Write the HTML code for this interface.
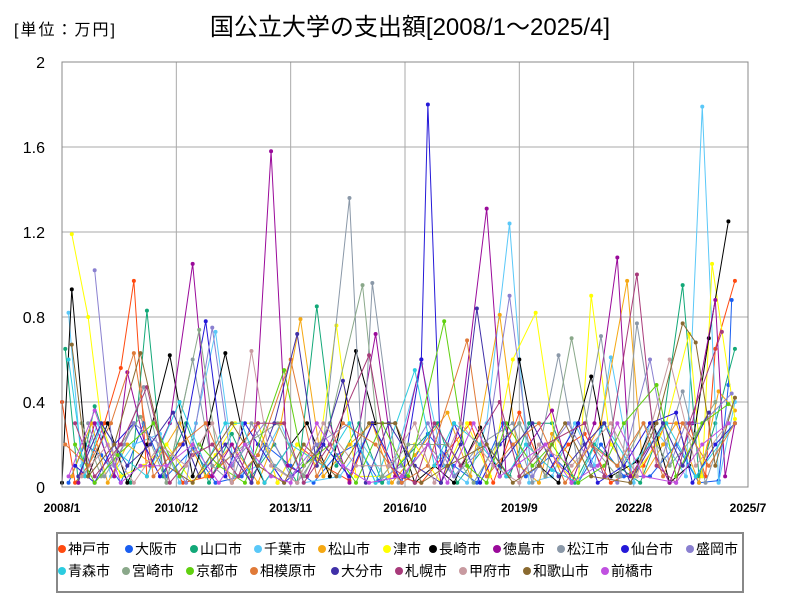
<!DOCTYPE html>
<html><head><meta charset="utf-8">
<style>
body{margin:0;background:#fff;width:800px;height:600px;overflow:hidden;font-family:"Liberation Sans","Noto Sans CJK JP",sans-serif;}
svg text{font-family:"Liberation Sans","Noto Sans CJK JP",sans-serif;}
</style></head><body>
<svg id="chart" width="800" height="600" viewBox="0 0 800 600" xmlns="http://www.w3.org/2000/svg">
<rect width="800" height="600" fill="#fff"/>
<text x="14" y="35" font-size="16" letter-spacing="2" fill="#000">[単位：万円]</text>
<text x="410" y="35" font-size="24" text-anchor="middle" fill="#000">国公立大学の支出額[2008/1～2025/4]</text>
<g id="grid"></g>
<g id="series"></g>
<g id="axes"></g>
<rect x="57" y="533" width="686" height="59" fill="#fff" stroke="#888" stroke-width="2"/>
<g id="legend"></g>
</svg>
<script>
const NS="http://www.w3.org/2000/svg";
const yTicks=[0,0.4,0.8,1.2,1.6,2];
const yTickLabels=["0","0.4","0.8","1.2","1.6","2"];
const xTickMonths=[0,35,70,105,140,175,210];
const xTickLabels=["2008/1","2010/12","2013/11","2016/10","2019/9","2022/8","2025/7"];
const names=["神戸市","大阪市","山口市","千葉市","松山市","津市","長崎市","徳島市","松江市","仙台市","盛岡市","青森市","宮崎市","京都市","相模原市","大分市","札幌市","甲府市","和歌山市","前橋市"];
const colors=["#ff4a10","#1a5ef0","#12a878","#5ac8f8","#f5a813","#ffff00","#000000","#9a0a9a","#8a98a8","#2418d8","#8a80d0","#2ccce0","#8aa88a","#60d010","#e07a38","#4030a8","#a83a7a","#c89aa0","#8a6a30","#c050e0"];
const s0=[[0,0.4],[4,0.02],[8,0.1],[13,0.3],[18,0.56],[22,0.97],[26,0.05],[30,0.2],[37,0.02],[45,0.05],[52,0.15],[60,0.3],[66,0.02],[72,0.2],[80,0.1],[88,0.03],[95,0.3],[102,0.05],[110,0.02],[117,0.15],[125,0.3],[132,0.02],[140,0.35],[148,0.05],[155,0.2],[160,0.25],[168,0.02],[178,0.1],[185,0.3],[192,0.3],[197,0.05],[200,0.65],[206,0.97]];
const s1=[[2,0.02],[7,0.2],[12,0.15],[18,0.02],[25,0.3],[32,0.05],[40,0.18],[47,0.02],[55,0.05],[62,0.2],[70,0.1],[77,0.02],[84,0.15],[90,0.2],[97,0.03],[105,0.05],[112,0.25],[120,0.1],[127,0.02],[135,0.3],[142,0.05],[150,0.15],[158,0.02],[165,0.2],[172,0.05],[180,0.05],[188,0.2],[195,0.02],[201,0.03],[204,0.48],[205,0.88]];
const s2=[[1,0.65],[5,0.02],[10,0.38],[16,0.1],[21,0.02],[26,0.83],[31,0.05],[38,0.3],[45,0.02],[52,0.25],[58,0.05],[65,0.2],[72,0.02],[78,0.85],[84,0.1],[91,0.3],[98,0.02],[106,0.15],[115,0.3],[121,0.02],[130,0.2],[137,0.05],[143,0.3],[150,0.3],[157,0.02],[163,0.2],[170,0.1],[177,0.02],[184,0.3],[190,0.95],[195,0.05],[200,0.3],[206,0.65]];
const s3=[[2,0.82],[6,0.1],[11,0.3],[15,0.05],[22,0.2],[30,0.25],[36,0.02],[41,0.3],[47,0.73],[53,0.05],[60,0.1],[67,0.3],[74,0.02],[85,0.05],[92,0.2],[100,0.02],[110,0.58],[117,0.1],[124,0.02],[130,0.3],[137,1.24],[143,0.02],[150,0.05],[157,0.3],[163,0.1],[168,0.61],[175,0.02],[180,0.3],[185,0.2],[191,0.05],[196,1.79],[201,0.02],[206,0.4]];
const s4=[[3,0.05],[9,0.3],[14,0.02],[20,0.2],[28,0.1],[36,0.3],[44,0.05],[52,0.2],[60,0.02],[67,0.3],[73,0.79],[80,0.05],[88,0.2],[95,0.3],[101,0.02],[108,0.15],[118,0.35],[125,0.05],[134,0.81],[140,0.1],[146,0.02],[150,0.25],[158,0.1],[165,0.3],[173,0.97],[178,0.05],[184,0.2],[188,0.3],[195,0.02],[201,0.45],[206,0.36]];
const s5=[[3,1.19],[8,0.8],[12,0.3],[18,0.05],[25,0.1],[32,0.2],[40,0.02],[47,0.15],[53,0.3],[60,0.3],[66,0.02],[72,0.2],[78,0.1],[84,0.76],[90,0.05],[100,0.05],[108,0.2],[116,0.02],[124,0.3],[131,0.05],[138,0.6],[145,0.82],[152,0.1],[158,0.02],[162,0.9],[168,0.2],[175,0.05],[182,0.2],[185,0.3],[192,0.72],[196,0.05],[199,1.05],[206,0.32]];
const s6=[[0,0.02],[3,0.93],[8,0.05],[14,0.3],[20,0.02],[26,0.2],[33,0.62],[40,0.05],[45,0.3],[50,0.63],[56,0.2],[62,0.02],[70,0.2],[75,0.3],[82,0.05],[90,0.64],[96,0.3],[102,0.3],[108,0.02],[114,0.1],[120,0.02],[128,0.28],[134,0.05],[140,0.6],[146,0.1],[152,0.02],[158,0.3],[162,0.52],[168,0.05],[176,0.12],[181,0.3],[186,0.02],[192,0.1],[198,0.7],[204,1.25]];
const s7=[[5,0.02],[10,0.3],[16,0.05],[20,0.54],[27,0.1],[33,0.3],[40,1.05],[46,0.05],[52,0.2],[58,0.02],[64,1.58],[69,0.1],[75,0.05],[82,0.3],[88,0.02],[96,0.72],[102,0.05],[110,0.6],[116,0.02],[122,0.3],[130,1.31],[136,0.05],[143,0.2],[150,0.36],[156,0.02],[163,0.3],[170,1.08],[174,0.05],[180,0.2],[186,0.02],[193,0.3],[200,0.88],[203,0.05],[206,0.3]];
const s8=[[8,0.3],[13,0.05],[19,0.2],[25,0.47],[32,0.02],[40,0.6],[46,0.1],[52,0.02],[58,0.3],[65,0.1],[72,0.02],[80,0.2],[88,1.36],[92,0.1],[95,0.96],[103,0.02],[112,0.2],[120,0.05],[128,0.2],[138,0.3],[144,0.02],[152,0.62],[158,0.1],[165,0.71],[171,0.05],[176,0.77],[183,0.1],[190,0.45],[197,0.02],[206,0.42]];
const s9=[[4,0.1],[10,0.02],[16,0.2],[22,0.3],[30,0.05],[37,0.2],[44,0.78],[50,0.05],[56,0.3],[60,0.2],[68,0.02],[74,0.1],[80,0.2],[88,0.05],[95,0.3],[104,0.02],[110,0.6],[112,1.8],[116,0.1],[120,0.3],[128,0.02],[134,0.2],[140,0.3],[148,0.05],[158,0.3],[164,0.02],[172,0.1],[180,0.3],[188,0.35],[193,0.02],[200,0.2],[206,0.3]];
const s10=[[10,1.02],[16,0.1],[22,0.3],[30,0.2],[38,0.02],[46,0.75],[52,0.1],[62,0.3],[70,0.05],[78,0.2],[88,0.3],[96,0.02],[104,0.1],[112,0.3],[120,0.05],[130,0.2],[137,0.9],[144,0.05],[150,0.2],[155,0.3],[162,0.1],[170,0.02],[180,0.6],[186,0.1],[191,0.3],[196,0.3],[205,0.44]];
const s11=[[2,0.6],[7,0.05],[12,0.3],[18,0.15],[26,0.05],[36,0.4],[44,0.1],[50,0.3],[55,0.3],[62,0.02],[70,0.2],[80,0.1],[88,0.3],[96,0.02],[108,0.55],[114,0.1],[120,0.3],[128,0.2],[136,0.05],[142,0.2],[150,0.08],[158,0.02],[166,0.3],[174,0.1],[180,0.2],[185,0.3],[194,0.05],[206,0.3]];
const s12=[[6,0.3],[12,0.05],[18,0.2],[24,0.33],[32,0.02],[42,0.74],[48,0.1],[56,0.2],[66,0.3],[74,0.05],[82,0.3],[92,0.95],[98,0.05],[106,0.2],[118,0.2],[126,0.02],[133,0.2],[140,0.3],[148,0.05],[156,0.7],[162,0.2],[170,0.05],[178,0.3],[186,0.1],[194,0.25],[200,0.4]];
const s13=[[4,0.2],[10,0.02],[17,0.15],[28,0.3],[36,0.05],[42,0.2],[48,0.1],[56,0.02],[68,0.55],[74,0.1],[82,0.2],[90,0.02],[98,0.3],[106,0.05],[117,0.78],[124,0.1],[130,0.02],[136,0.3],[144,0.1],[150,0.2],[158,0.02],[166,0.1],[172,0.3],[182,0.48],[188,0.05],[196,0.3],[204,0.39]];
const s14=[[1,0.2],[8,0.1],[15,0.3],[22,0.63],[28,0.05],[36,0.2],[44,0.3],[52,0.02],[60,0.15],[70,0.6],[78,0.05],[86,0.3],[96,0.2],[104,0.02],[112,0.1],[124,0.69],[130,0.05],[138,0.2],[146,0.3],[154,0.02],[162,0.2],[170,0.1],[178,0.3],[184,0.05],[190,0.3],[198,0.1],[206,0.3]];
const s15=[[5,0.05],[12,0.3],[20,0.1],[27,0.2],[34,0.35],[42,0.05],[50,0.2],[58,0.02],[65,0.3],[72,0.72],[78,0.1],[86,0.5],[93,0.02],[100,0.3],[108,0.1],[116,0.02],[122,0.2],[127,0.84],[134,0.1],[144,0.3],[152,0.05],[160,0.2],[166,0.3],[174,0.02],[184,0.3],[190,0.1],[198,0.35]];
const s16=[[4,0.3],[10,0.05],[18,0.2],[26,0.47],[33,0.02],[40,0.15],[46,0.2],[54,0.05],[60,0.3],[68,0.3],[74,0.02],[82,0.2],[94,0.62],[100,0.1],[108,0.02],[114,0.3],[122,0.1],[134,0.4],[140,0.05],[148,0.2],[160,0.3],[166,0.05],[176,1.0],[182,0.1],[188,0.02],[192,0.3],[202,0.73]];
const s17=[[6,0.05],[14,0.2],[22,0.02],[30,0.2],[38,0.1],[46,0.3],[52,0.02],[58,0.64],[64,0.1],[72,0.02],[80,0.3],[90,0.1],[100,0.1],[108,0.3],[114,0.02],[122,0.3],[132,0.1],[140,0.02],[146,0.2],[156,0.1],[168,0.3],[176,0.05],[186,0.6],[194,0.1],[204,0.3]];
const s18=[[3,0.67],[8,0.05],[16,0.2],[24,0.63],[32,0.1],[40,0.02],[52,0.3],[60,0.1],[68,0.02],[74,0.2],[84,0.05],[94,0.3],[102,0.3],[110,0.02],[118,0.1],[130,0.2],[138,0.02],[146,0.1],[154,0.3],[162,0.05],[174,0.02],[182,0.3],[190,0.77],[194,0.68],[200,0.1],[206,0.42]];
const s19=[[2,0.05],[10,0.36],[18,0.02],[24,0.1],[32,0.1],[40,0.2],[48,0.02],[56,0.2],[64,0.05],[70,0.02],[78,0.3],[86,0.1],[94,0.02],[104,0.05],[112,0.2],[118,0.02],[126,0.3],[134,0.05],[148,0.2],[156,0.02],[164,0.1],[170,0.3],[178,0.05],[188,0.02],[196,0.2],[204,0.3]];
const allSeries=[s0,s1,s2,s3,s4,s5,s6,s7,s8,s9,s10,s11,s12,s13,s14,s15,s16,s17,s18,s19];
const L=62,R=748,T=62,B=487,MMAX=210,YMAX=2;
const xS=m=>L+m*(R-L)/MMAX;
const yS=v=>B-v*(B-T)/YMAX;
function mk(tag,attrs,parent){const e=document.createElementNS(NS,tag);for(const k in attrs)e.setAttribute(k,attrs[k]);parent.appendChild(e);return e;}
const grid=document.getElementById('grid'),axes=document.getElementById('axes'),ser=document.getElementById('series'),leg=document.getElementById('legend');
yTicks.forEach((v,i)=>{
 const ln=mk('line',{x1:L,x2:R,y1:yS(v),y2:yS(v),stroke:'#aaa','stroke-width':1},grid);
 
 
 const t=mk('text',{x:45,y:yS(v)+6,'font-size':16,'text-anchor':'end',fill:'#000'},axes);
 t.textContent=yTickLabels[i];
 
 
});
xTickMonths.forEach((m,i)=>{
 const ln=mk('line',{x1:xS(m),x2:xS(m),y1:T,y2:B,stroke:'#aaa','stroke-width':1},grid);
 
 
 const t=mk('text',{x:xS(m),y:512,'font-size':12,'font-weight':'bold','text-anchor':'middle',fill:'#000'},axes);
 t.textContent=xTickLabels[i];
 
 
});
const frame=mk('rect',{x:L,y:T,width:R-L,height:B-T,fill:'none',stroke:'#888','stroke-width':1},axes);


allSeries.forEach((d,i)=>{
 const g=mk('g',{},ser);
 
 
 const p=mk('polyline',{points:d.map(q=>xS(q[0])+','+yS(q[1])).join(' '),fill:'none',stroke:colors[i],'stroke-width':1},g);
 
 
 d.forEach(q=>{
  const c=mk('circle',{cx:xS(q[0]),cy:yS(q[1]),r:2,fill:colors[i]},g);
  
  
 });
});
const legX=[62,129,194,258,322,387,433,497,561,625,690,62,126,190,254,335,399,463,527,605];
names.forEach((n,i)=>{
 const y=i<11?549:571;
 const g=mk('g',{},leg);
 
 
 mk('circle',{cx:legX[i],cy:y,r:4,fill:colors[i]},g);
 const t=mk('text',{x:legX[i]+6,y:y+5,'font-size':14,fill:'#000'},g);
 t.textContent=n;
});
</script>
</body></html>
